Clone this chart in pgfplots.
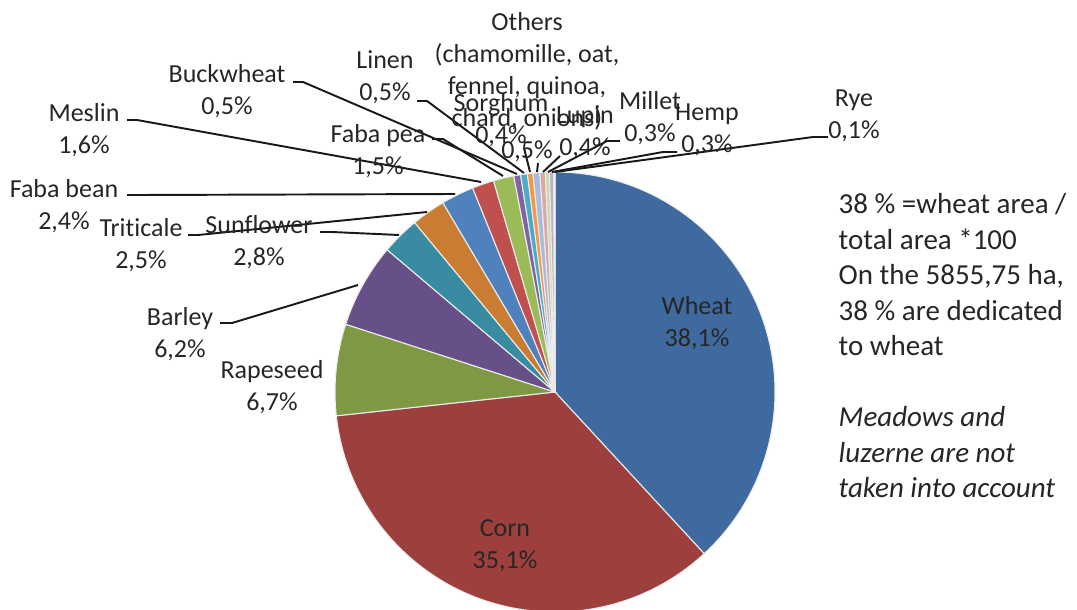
\documentclass[border=0pt]{standalone}
\usepackage{pgfplots}
\pgfplotsset{compat=1.18}
\usepackage{pgfplotstable}
\usepackage{fontspec}
\setmainfont{Carlito}[Ligatures=NoCommon]
\definecolor{txt}{HTML}{262626}
\definecolor{cWheat}{HTML}{3F6A9F}
\definecolor{cCorn}{HTML}{9D3F3C}
\definecolor{cRape}{HTML}{7F9844}
\definecolor{cBarley}{HTML}{674F87}
\definecolor{cSun}{HTML}{398BA2}
\definecolor{cTrit}{HTML}{CA7D32}
\definecolor{cFbean}{HTML}{4F81BD}
\definecolor{cMeslin}{HTML}{C0504D}
\definecolor{cFpea}{HTML}{9BBB59}
\definecolor{cBuck}{HTML}{8064A2}
\definecolor{cLinen}{HTML}{4BACC6}
\definecolor{cSorg}{HTML}{F79646}
\definecolor{cOthers}{HTML}{A9BCDB}
\definecolor{cLupin}{HTML}{DBA8A7}
\definecolor{cMillet}{HTML}{C9DBA9}
\definecolor{cHemp}{HTML}{BAAFCC}
\definecolor{cRye}{HTML}{A9D4E3}

\pgfplotstableread{
name value col
Wheat 38.1 cWheat
Corn 35.1 cCorn
Rapeseed 6.7 cRape
Barley 6.2 cBarley
Sunflower 2.8 cSun
Triticale 2.5 cTrit
Fababean 2.4 cFbean
Meslin 1.6 cMeslin
Fabapea 1.5 cFpea
Buckwheat 0.5 cBuck
Linen 0.5 cLinen
Sorghum 0.4 cSorg
Others 0.5 cOthers
Lupin 0.4 cLupin
Millet 0.3 cMillet
Hemp 0.3 cHemp
Rye 0.1 cRye
}\piedata

\begin{document}
\begin{tikzpicture}[
  lab/.style={font=\fontsize{7.4}{9.1}\selectfont,text=txt,align=center,inner sep=0pt},
  leader/.style={draw=black!90,line width=0.55pt}]
\path[use as bounding box] (0,0) rectangle (10.77cm,6.09cm);
\begin{axis}[at={(0,0)},anchor=south west,scale only axis,
  width=10.77cm,height=6.09cm,xmin=0,xmax=1077,ymin=0,ymax=609,
  y dir=reverse,hide axis,clip=false]
\pgfplotsextra{
  \pgfplotstablegetrowsof{\piedata}%
  \pgfmathtruncatemacro\lastrow{\pgfplotsretval-1}%
  \gdef\cum{0}%
  \foreach \i in {0,...,\lastrow}{%
    \pgfplotstablegetelem{\i}{value}\of\piedata\let\sliceval\pgfplotsretval
    \pgfplotstablegetelem{\i}{col}\of\piedata\let\slicecol\pgfplotsretval
    \pgfmathsetmacro\sa{90-\cum/99.9*360}%
    \pgfmathsetmacro\ea{90-(\cum+\sliceval)/99.9*360}%
    \fill[fill=\slicecol,draw=white!85!gray,line width=0.3pt] (axis cs:555,392) -- ++(\sa:2.2cm) arc[start angle=\sa,end angle=\ea,radius=2.2cm] -- cycle;
    \pgfmathsetmacro\newcum{\cum+\sliceval}\xdef\cum{\newcum}%
  }%
}
% leader lines
\draw[leader] (axis cs:220,323) -- (axis cs:232,323) -- (axis cs:358,285);
\draw[leader] (axis cs:320,232) -- (axis cs:332,232) -- (axis cs:399,235);
\draw[leader] (axis cs:188,235) -- (axis cs:198,235) -- (axis cs:427,212);
\draw[leader] (axis cs:127,195) -- (axis cs:139,195) -- (axis cs:455,194);
\draw[leader] (axis cs:127,120) -- (axis cs:137,120) -- (axis cs:481,182);
\draw[leader] (axis cs:293,82) -- (axis cs:303,82) -- (axis cs:517,174);
\draw[leader] (axis cs:417,101) -- (axis cs:427,101) -- (axis cs:524,173);
\draw[leader] (axis cs:432,139) -- (axis cs:443,139) -- (axis cs:503,176);
\draw[leader] (axis cs:524,148) -- (axis cs:530,172);
\draw[leader] (axis cs:538,163) -- (axis cs:537,172);
\draw[leader] (axis cs:560,156) -- (axis cs:543,172);
\draw[leader] (axis cs:620,141) -- (axis cs:607,141) -- (axis cs:548,172);
\draw[leader] (axis cs:677,152) -- (axis cs:663,152) -- (axis cs:552,172);
\draw[leader] (axis cs:828,137) -- (axis cs:813,137) -- (axis cs:555,172);
% labels
\node[lab] at (axis cs:697,323) {Wheat\\38,1\%};
\node[lab] at (axis cs:505,546) {Corn\\35,1\%};
\node[lab] at (axis cs:272,387) {Rapeseed\\6,7\%};
\node[lab] at (axis cs:180,334) {Barley\\6,2\%};
\node[lab] at (axis cs:259,242) {Sunflower\\2,8\%};
\node[lab] at (axis cs:141,245) {Triticale\\2,5\%};
\node[lab] at (axis cs:64,206) {Faba bean\\2,4\%};
\node[lab] at (axis cs:84,130) {Meslin\\1,6\%};
\node[lab] at (axis cs:227,91) {Buckwheat\\0,5\%};
\node[lab] at (axis cs:378,151) {Faba pea\\1,5\%};
\node[lab] at (axis cs:385,77) {Linen\\0,5\%};
\node[lab] at (axis cs:527,87) {Others\\(chamomille, oat,\\fennel, quinoa,\\chard, onions)\\0,5\%};
\node[lab] at (axis cs:501,120) {Sorghum\\0,4\%};
\node[lab] at (axis cs:585,132) {Lupin\\0,4\%};
\node[lab] at (axis cs:650,118) {Millet\\0,3\%};
\node[lab] at (axis cs:707,130) {Hemp\\0,3\%};
\node[lab] at (axis cs:854,116) {Rye\\0,1\%};
\node[anchor=north west,align=left,inner sep=0pt,text=txt,font=\fontsize{8.25}{10.1}\selectfont] at (axis cs:838,193)
 {38 \% =wheat area /\\total area *100\\On the 5855,75 ha,\\38 \% are dedicated\\to wheat\\[10.1pt]\textit{Meadows and}\\\textit{luzerne are not}\\\textit{taken into account}};
\end{axis}
\end{tikzpicture}
\end{document}
